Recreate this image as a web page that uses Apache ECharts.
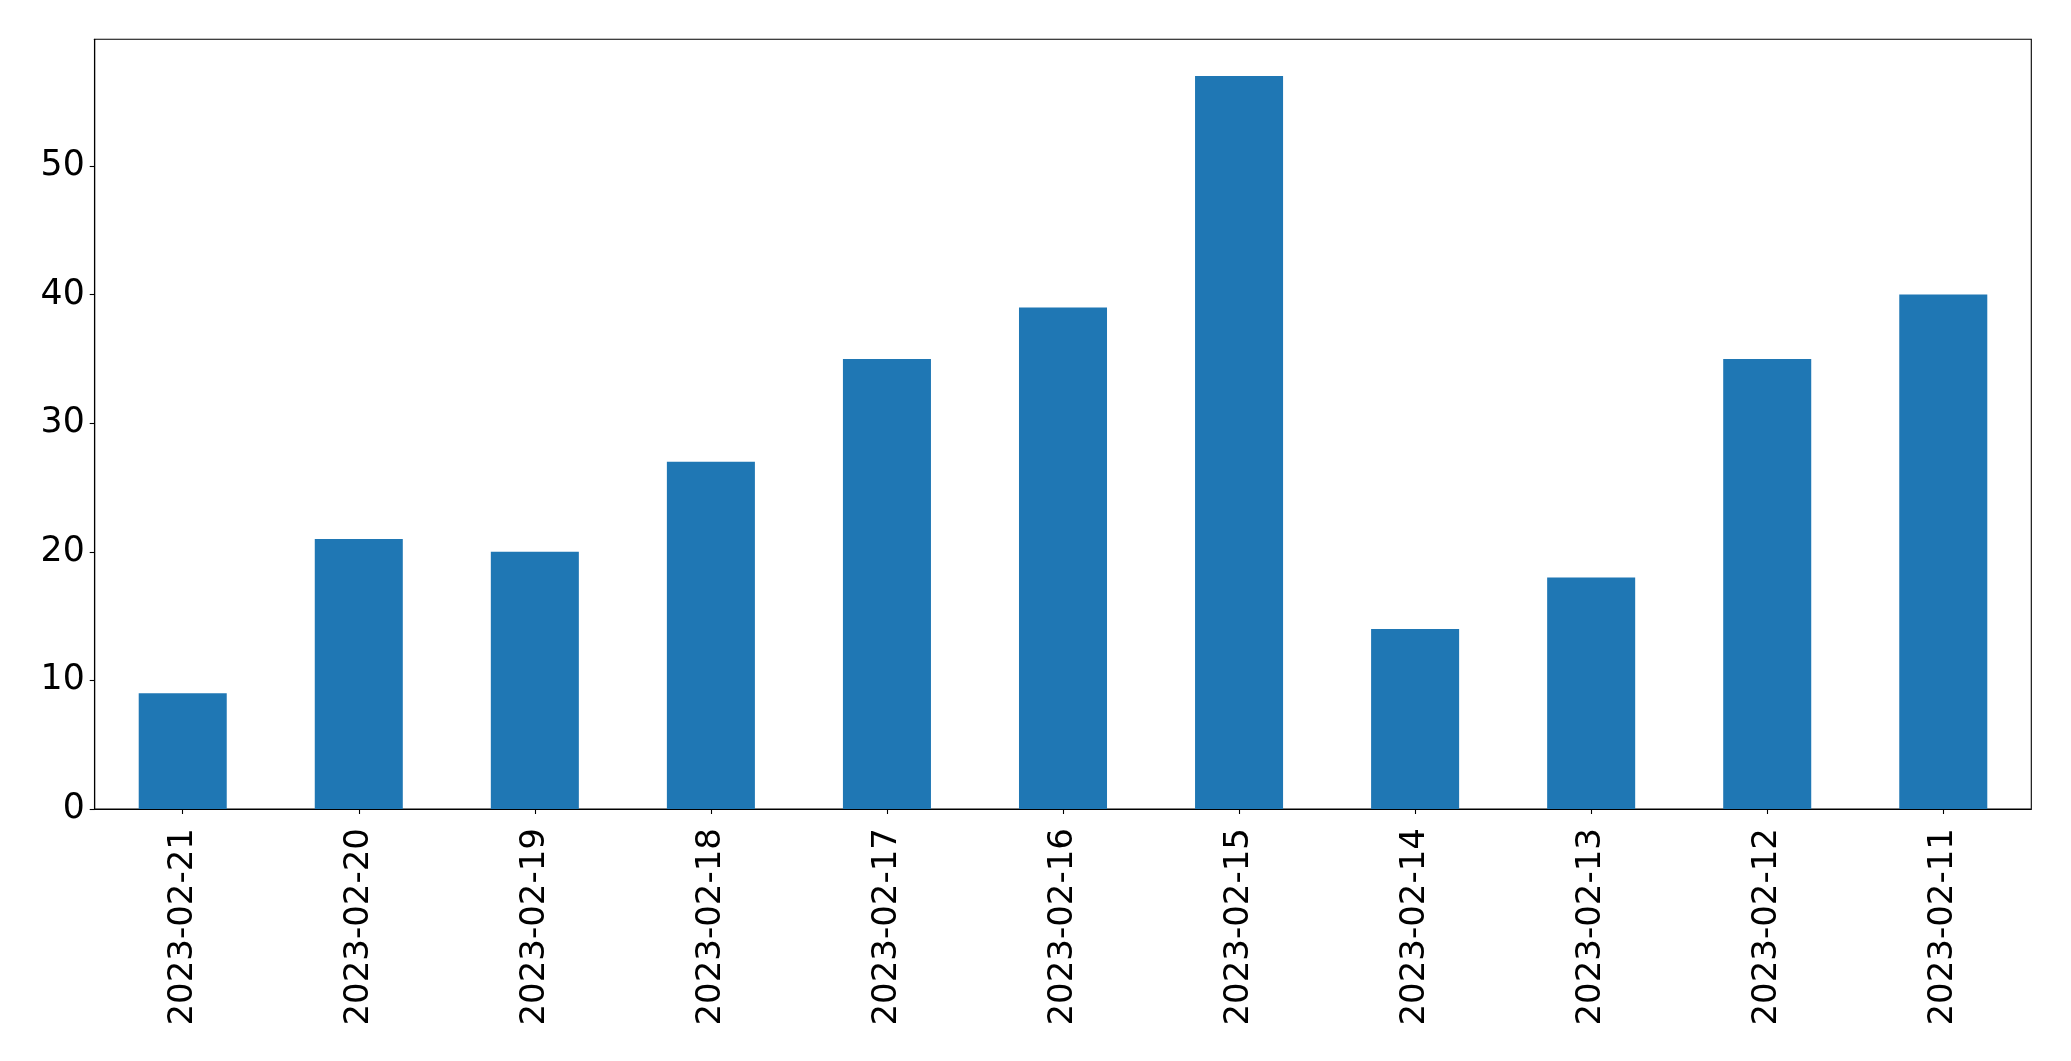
<!DOCTYPE html>
<html>
<head>
<meta charset="utf-8">
<script src="https://cdn.jsdelivr.net/npm/echarts@6/dist/echarts.min.js"></script>
<style>html,body{margin:0;padding:0;background:#fff;}#c{width:2071px;height:1061px;}</style>
</head>
<body>
<div id="c"></div>
<script>
var categories = ['2023-02-21','2023-02-20','2023-02-19','2023-02-18','2023-02-17','2023-02-16','2023-02-15','2023-02-14','2023-02-13','2023-02-12','2023-02-11'];
var values = [9, 21, 20, 27, 35, 39, 57, 14, 18, 35, 40];
var yTicks = [0, 10, 20, 30, 40, 50];

var chart = echarts.init(document.getElementById('c'), null, {renderer: 'canvas'});
chart.setOption({
  animation: false,
  backgroundColor: '#ffffff',
  grid: {left: 94.7, right: 39.7, top: 39.3, bottom: 252, show: true, borderColor: '#000', borderWidth: 1.1, backgroundColor: 'transparent'},
  xAxis: {
    type: 'category',
    data: categories,
    boundaryGap: true,
    axisLine: {show: true, lineStyle: {color: '#000', width: 1.1}},
    axisTick: {show: true, alignWithLabel: true, length: 5, lineStyle: {color: '#000', width: 1.1}},
    axisLabel: {rotate: 90, margin: 19, fontSize: 34, color: '#000', fontFamily: 'DejaVu Sans', interval: 0},
    splitLine: {show: false}
  },
  yAxis: {
    type: 'value',
    min: 0,
    max: 59.85,
    interval: 10,
    axisLine: {show: true, lineStyle: {color: '#000', width: 1.1}},
    axisTick: {show: true, length: 5, inside: false, lineStyle: {color: '#000', width: 1.1}, customValues: yTicks},
    axisLabel: {margin: 10, fontSize: 34.7, color: '#000', fontFamily: 'DejaVu Sans', customValues: yTicks},
    splitLine: {show: false}
  },
  series: [{
    type: 'bar',
    data: values,
    barWidth: '50%',
    itemStyle: {color: '#1f77b4'}
  }]
});
</script>
</body>
</html>
